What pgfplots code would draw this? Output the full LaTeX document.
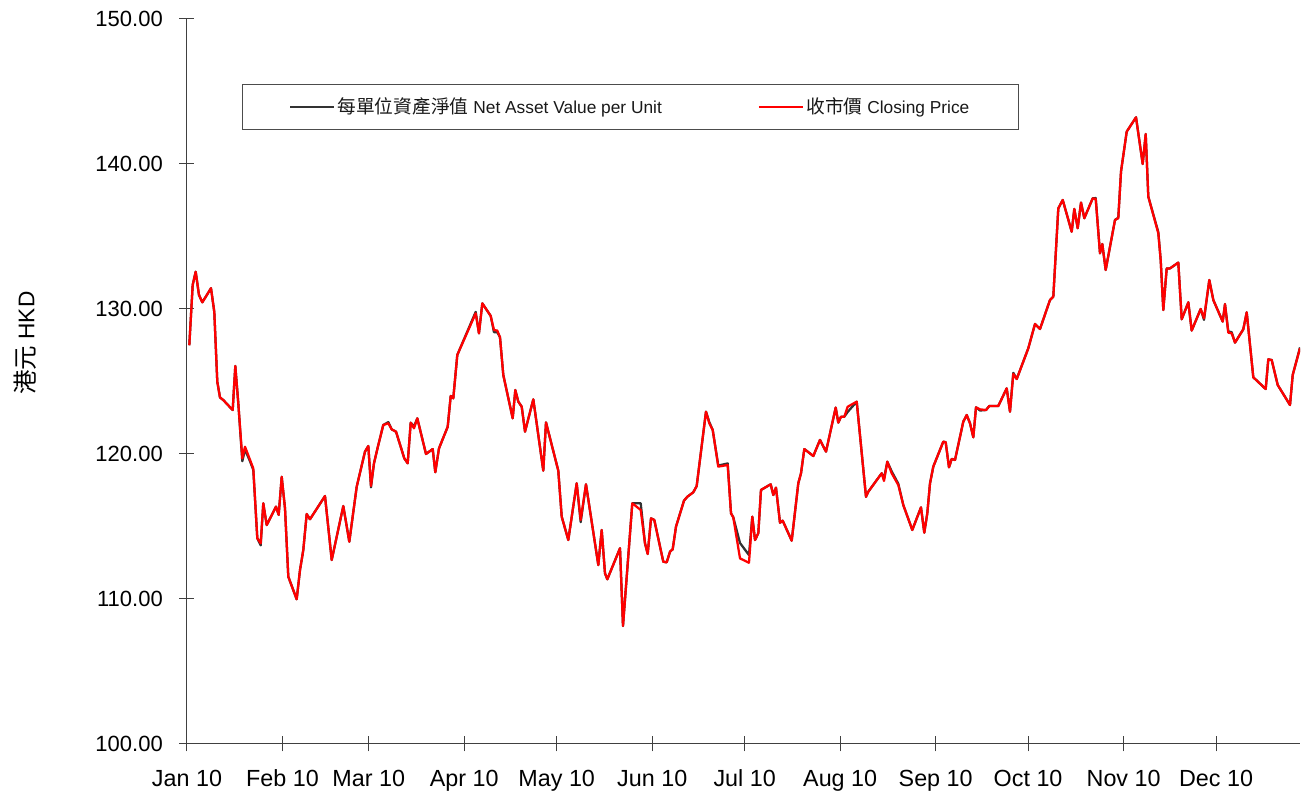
\documentclass[border=0pt]{standalone}
\usepackage{fontspec}
\setmainfont{Liberation Sans}
\newfontfamily\cjk[Scale=1.08]{Noto Sans CJK TC}
\usepackage{pgfplots}
\usepackage{pgfplotstable}
\pgfplotsset{compat=1.18}
\definecolor{navgray}{HTML}{333333}
\definecolor{axgray}{HTML}{404040}

\pgfplotstableread{
x nav price
0.75 127.5 127.5
1.85 131.66 131.66
2.82 132.57 132.57
3.89 130.97 130.97
4.97 130.46 130.46
7.79 131.43 131.43
8.86 129.8 129.8
9.83 124.99 124.99
10.71 123.9 123.9
11.78 123.72 123.72
14.83 123.03 123.03
15.68 126.07 126.07
16.65 123.5 123.5
17.95 119.5 119.7
18.83 120.3 120.5
20.45 119.5 119.6
21.52 118.9 119.0
22.82 114.19 114.19
23.92 113.7 113.84
24.76 116.6 116.6
25.87 115.1 115.1
28.89 116.37 116.37
29.76 115.8 115.8
30.74 118.43 118.43
31.81 116.25 116.25
32.88 111.54 111.54
35.6 109.98 109.98
36.68 112.0 112.0
37.75 113.38 113.38
38.85 115.86 115.86
39.92 115.5 115.5
44.79 117.1 117.1
46.97 112.69 112.69
50.73 116.41 116.41
52.68 113.95 113.95
55.08 117.74 117.74
57.77 120.16 120.16
58.85 120.55 120.55
59.72 117.7 117.79
60.69 119.36 119.36
62.09 120.62 120.62
63.71 122.0 122.0
65.34 122.2 122.12
66.44 121.7 121.7
67.84 121.54 121.54
70.53 119.7 119.7
71.63 119.36 119.36
72.61 122.16 122.16
73.68 121.9 121.77
74.75 122.46 122.46
77.57 120.0 120.0
79.75 120.34 120.34
80.59 118.74 118.74
81.79 120.39 120.39
84.62 121.88 121.88
85.59 124.0 124.0
86.43 123.84 123.84
87.73 126.83 126.83
93.7 129.8 129.70
94.77 128.32 128.32
95.85 130.39 130.39
98.57 129.52 129.52
99.64 128.4 128.55
100.71 128.4 128.51
101.59 128.05 128.05
102.66 125.45 125.45
105.71 122.46 122.46
106.56 124.41 124.41
107.53 123.61 123.61
108.64 123.26 123.26
109.71 121.54 121.54
112.4 123.77 123.77
115.64 118.85 118.85
116.52 122.18 122.18
120.51 118.85 118.85
121.62 115.68 115.68
123.76 114.07 114.07
126.48 117.98 117.98
127.78 115.3 115.45
129.5 117.91 117.91
133.5 112.34 112.34
134.6 114.76 114.76
135.67 111.77 111.77
136.42 111.36 111.36
140.54 113.5 113.5
141.51 108.14 108.14
144.53 116.6 116.6
147.26 116.6 116.14
148.65 113.84 113.84
149.53 113.1 113.1
150.6 115.56 115.56
151.67 115.45 115.45
154.59 112.57 112.57
155.7 112.53 112.53
156.77 113.26 113.26
157.64 113.43 113.43
158.72 114.99 114.99
161.31 116.78 116.78
162.38 117.05 117.05
164.33 117.36 117.36
165.43 117.79 117.79
168.45 122.92 122.92
169.52 122.2 122.12
170.63 121.66 121.66
172.44 119.2 119.13
175.49 119.35 119.24
176.57 115.91 115.91
177.31 115.63 115.63
179.49 113.86 112.8
182.41 113.03 112.5
183.48 115.68 115.68
184.36 114.07 114.07
185.43 114.53 114.53
186.3 117.52 117.52
189.45 117.91 117.91
190.3 117.17 117.17
191.17 117.68 117.68
192.47 115.26 115.26
193.35 115.4 115.4
196.27 114.02 114.02
198.41 117.98 117.98
199.29 118.67 118.67
200.36 120.34 120.34
203.28 119.86 119.86
205.45 120.97 120.97
207.4 120.16 120.16
210.55 123.2 123.2
211.39 122.16 122.16
212.27 122.57 122.57
213.34 122.57 122.57
214.44 122.9 123.26
217.37 123.61 123.61
220.38 117.05 117.05
221.13 117.4 117.4
223.86 118.2 118.2
225.48 118.67 118.67
226.23 118.3 118.14
227.3 119.47 119.47
228.73 118.8 118.67
230.87 117.95 117.86
232.49 116.48 116.48
235.41 114.76 114.76
238.23 116.32 116.32
239.3 114.57 114.57
240.28 115.91 115.91
241.16 117.98 117.98
242.23 119.13 119.13
245.47 120.85 120.85
246.25 120.81 120.81
247.32 119.08 119.08
248.2 119.66 119.66
249.27 119.59 119.59
251.96 122.23 122.23
253.07 122.69 122.69
254.14 122.12 122.12
255.21 121.15 121.15
256.09 123.22 123.22
257.38 123.0 123.08
259.33 123.03 123.03
260.4 123.31 123.31
263.32 123.31 123.31
266.05 124.53 124.53
267.12 122.92 122.92
268.19 125.6 125.52
269.3 125.17 125.17
273.06 127.29 127.29
275.24 128.97 128.97
276.86 128.62 128.62
280.1 130.62 130.62
281.18 130.85 130.85
282.8 136.94 136.94
284.23 137.52 137.52
287.15 135.33 135.33
287.99 136.9 136.9
289.09 135.57 135.57
290.17 137.34 137.34
291.24 136.26 136.26
293.96 137.63 137.63
294.94 137.65 137.59
296.33 133.84 133.84
297.08 134.48 134.48
298.18 132.69 132.69
301.2 136.14 136.14
302.27 136.3 136.26
303.15 139.47 139.47
305.0 142.23 142.23
308.02 143.22 143.22
310.19 140.0 140.0
311.17 142.07 142.07
312.01 137.75 137.75
315.26 135.3 135.22
316.03 133.38 133.38
316.88 129.93 129.93
317.98 132.8 132.8
319.05 132.8 132.8
321.75 133.2 133.2
322.85 129.29 129.29
325.0 130.46 130.46
326.09 128.51 128.51
329.01 130.0 130.0
330.09 129.25 129.36
331.81 132.0 132.0
333.11 130.62 130.62
336.16 129.13 129.13
336.9 130.34 130.34
337.97 128.45 128.37
339.08 128.4 128.32
340.15 127.68 127.68
342.84 128.6 128.6
343.95 129.77 129.77
346.09 125.29 125.29
350.11 124.48 124.48
350.96 126.53 126.53
352.06 126.48 126.48
354.01 124.76 124.76
358.0 123.38 123.38
358.88 125.45 125.45
361.25 127.35 127.29
}\datatable

\begin{document}
\begin{tikzpicture}
\begin{axis}[
  name=ax,
  scale only axis,
  width=834.75pt, height=543.75pt,
  xmin=0, xmax=361.25, ymin=100, ymax=150,
  axis x line=bottom, axis y line=left,
  axis line style={-, draw=axgray, line width=0.75pt},
  xtick={0,31,59,90,120,151,181,212,243,273,304,334},
  xticklabels={Jan 10,Feb 10,Mar 10,Apr 10,May 10,Jun 10,Jul 10,Aug 10,Sep 10,Oct 10,Nov 10,Dec 10},
  ytick={100,110,120,130,140,150},
  tick align=center, major tick length=11.25pt,
  tick style={draw=axgray, line width=0.75pt},
  yticklabel style={/pgf/number format/.cd, fixed, fixed zerofill, precision=2, assume math mode=true,
    /tikz/.cd, font=\fontsize{16.5}{18}\selectfont, xshift=-9pt},
  xticklabel style={font=\fontsize{17.5}{19}\selectfont, anchor=north, text height=12.5pt, text depth=3.5pt, yshift=-10pt},
  ticklabel style={text=black},
  ylabel={{\cjk 港元} HKD},
  ylabel style={at={(axis description cs:-0.1456,0.553)}, anchor=center, font=\fontsize{17}{19}\selectfont},
  legend columns=2,
  legend cell align=left,
  legend image code/.code={\draw[#1, line width=1.3pt] (0pt,0pt) -- (33pt,0pt);},
  legend style={at={(axis description cs:0.0494,0.9103)}, anchor=north west,
    draw=black!70, line width=0.75pt, inner xsep=35pt, inner ysep=8pt,
    font=\fontsize{13}{15}\selectfont, text=black!90,
    /tikz/every even column/.append style={column sep=70pt}},
]
\addplot[navgray, line width=1.7pt, line join=round] table[x=x, y=nav] {\datatable};
\addlegendentry{{\cjk 每單位資產淨值} Net Asset Value per Unit}
\addplot[red, line width=1.7pt, line join=round] table[x=x, y=price] {\datatable};
\addlegendentry{{\cjk 收市價} Closing Price}
\end{axis}
\pgfresetboundingbox
\path[use as bounding box] ([xshift=-140.25pt,yshift=-40.5pt]ax.south west) rectangle ([xshift=1.5pt,yshift=14.25pt]ax.north east);
\end{tikzpicture}
\end{document}
